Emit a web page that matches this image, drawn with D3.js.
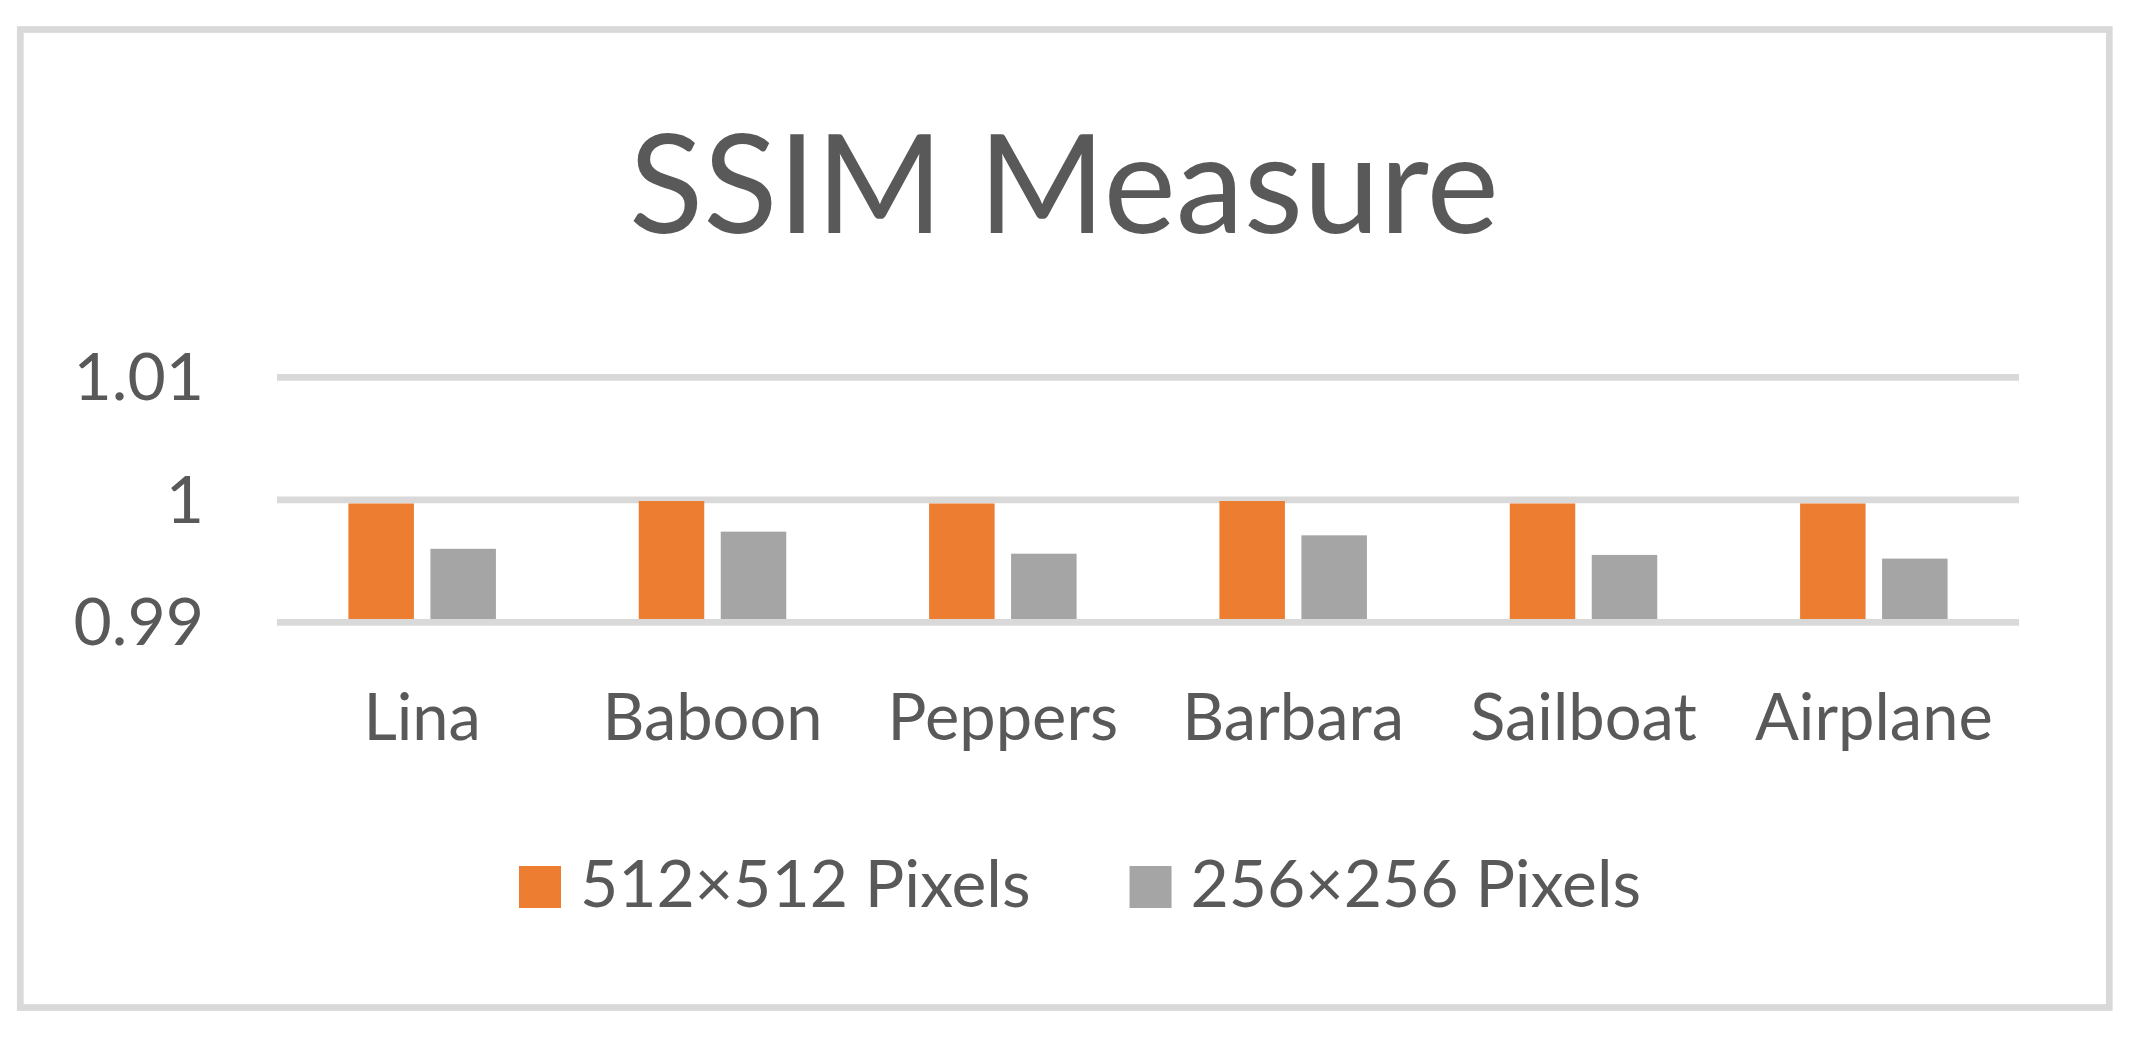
<!DOCTYPE html>
<html>
<head>
<meta charset="utf-8">
<script src="https://cdn.jsdelivr.net/npm/d3@7"></script>
<style>
  html, body { margin: 0; padding: 0; background: #fff; }
  svg text { font-family: Lato, "Open Sans", sans-serif; fill: #595959; }
</style>
</head>
<body>
<svg id="chart" width="2130" height="1040"></svg>
<script>
// --- DATA ---
const chartTitle = "SSIM Measure";
const images = ["Lina", "Baboon", "Peppers", "Barbara", "Sailboat", "Airplane"];
const seriesNames = ["512×512 Pixels", "256×256 Pixels"];
const ssim512 = [0.9997, 0.9999, 0.9997, 0.9999, 0.9997, 0.9997];
const ssim256 = [0.9960, 0.9974, 0.9956, 0.9971, 0.9955, 0.9952];
const yTicks = [0.99, 1, 1.01];
const yTickLabels = ["0.99", "1", "1.01"];

// --- CONFIG ---
const colors = ["#ED7D31", "#A5A5A5"];
const gridColor = "#D9D9D9";
const plot = { left: 277, right: 2019, top: 377.3, bottom: 622.3 };

const svg = d3.select("#chart");

// outer frame
svg.append("rect")
    .attr("x", 20.3).attr("y", 29.5)
    .attr("width", 2089).attr("height", 978)
    .attr("fill", "#fff")
    .attr("stroke", gridColor)
    .attr("stroke-width", 6.7);

// title
svg.append("text")
    .attr("x", 1064).attr("y", 232.7)
    .attr("text-anchor", "middle")
    .style("font-size", "137px")
    .text(chartTitle);

// scales
const x0 = d3.scaleBand().domain(images).range([plot.left, plot.right]).padding(0);
const y = d3.scaleLinear().domain([0.99, 1.01]).range([plot.bottom, plot.top]);

// group width is about half the category band, bars separated by a small gap
const groupFrac = 0.508;
const x1 = d3.scaleBand().domain(seriesNames)
    .range([-x0.bandwidth() * groupFrac / 2, x0.bandwidth() * groupFrac / 2])
    .paddingInner(0.2012);

// gridlines (behind bars)
svg.append("g").selectAll("line")
    .data(yTicks.filter(t => t !== 0.99))
    .join("line")
    .attr("x1", plot.left).attr("x2", plot.right)
    .attr("y1", d => y(d)).attr("y2", d => y(d))
    .attr("stroke", gridColor).attr("stroke-width", 6.7);

// bars
const rows = images.map((name, i) => ({ name, values: [ssim512[i], ssim256[i]] }));
const groups = svg.append("g").selectAll("g")
    .data(rows)
    .join("g")
    .attr("transform", d => `translate(${x0(d.name) + x0.bandwidth() / 2},0)`);

groups.selectAll("rect")
    .data(d => d.values.map((v, k) => ({ key: seriesNames[k], value: v, k })))
    .join("rect")
    .attr("x", d => x1(d.key))
    .attr("width", x1.bandwidth())
    .attr("y", d => y(d.value))
    .attr("height", d => y(0.99) - y(d.value))
    .attr("fill", d => colors[d.k]);

// horizontal axis line at the baseline, drawn over the bars
svg.append("line")
    .attr("x1", plot.left).attr("x2", plot.right)
    .attr("y1", y(0.99)).attr("y2", y(0.99))
    .attr("stroke", gridColor).attr("stroke-width", 6.7);

// y tick labels
svg.append("g").selectAll("text")
    .data(yTicks)
    .join("text")
    .attr("x", 204)
    .attr("y", d => y(d) + 23)
    .attr("text-anchor", "end")
    .style("font-size", "66px")
    .text((d, i) => yTickLabels[i]);

// category labels
svg.append("g").selectAll("text")
    .data(images)
    .join("text")
    .attr("x", d => x0(d) + x0.bandwidth() / 2)
    .attr("y", 740)
    .attr("text-anchor", "middle")
    .style("font-size", "65px")
    .text(d => d);

// legend
const legend = svg.append("g");
let lx = 519;
seriesNames.forEach((name, k) => {
    legend.append("rect")
        .attr("x", lx).attr("y", 866)
        .attr("width", 42).attr("height", 42)
        .attr("fill", colors[k]);
    const t = legend.append("text")
        .attr("x", lx + 61).attr("y", 906.7)
        .style("font-size", "66px")
        .text(name);
    lx += 61 + t.node().getComputedTextLength() + 99;
});
</script>
</body>
</html>
